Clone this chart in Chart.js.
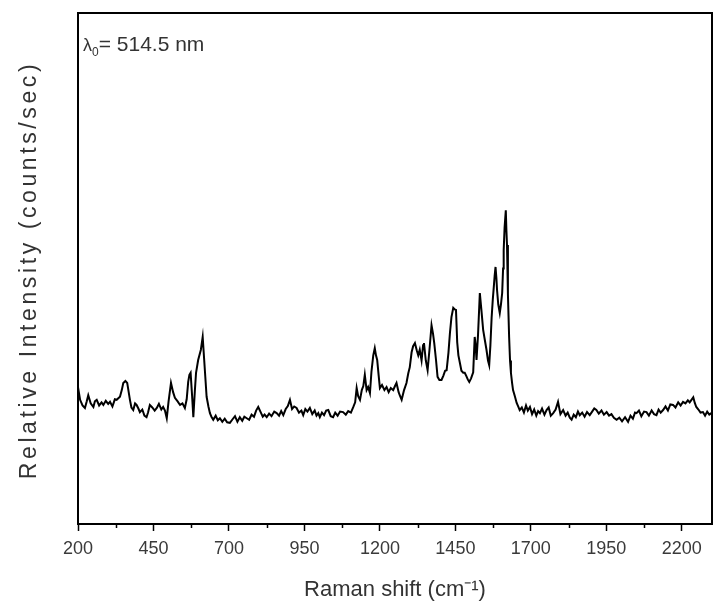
<!DOCTYPE html>
<html>
<head>
<meta charset="utf-8">
<script src="https://cdn.jsdelivr.net/npm/chart.js@4.4.1/dist/chart.umd.min.js"></script>
<style>
html, body { margin: 0; padding: 0; background: #fff; }
</style>
</head>
<body>
<canvas id="raman_chart" width="713" height="610"></canvas>
<script>
//Spectrum, x in cm-1, intensity in arbitrary counts (0-1000 over the frame)
const raman_shift = [200,207,215,223,229,234,242,251,256,262,270,278,284,292,300,306,314,322,328,339,345,350,357,363,372,377,383,389,394,400,405,413,420,427,432,438,446,454,461,468,476,482,488,494,500,508,515,521,530,538,546,554,560,565,569,573,578,582,587,591,598,607,613,618,626,632,637,642,648,656,663,670,678,686,694,703,712,720,728,736,744,751,759,767,775,783,790,797,805,812,818,825,833,841,850,858,866,873,880,888,895,902,909,916,924,932,940,946,953,960,968,976,984,990,996,1001,1008,1015,1022,1029,1037,1045,1052,1060,1068,1078,1087,1095,1104,1112,1118,1123,1128,1134,1140,1145,1150,1156,1161,1167,1172,1178,1183,1187,1191,1196,1200,1207,1215,1222,1229,1236,1244,1250,1255,1262,1267,1272,1280,1288,1294,1299,1305,1310,1316,1322,1327,1332,1338,1343,1346,1352,1358,1364,1371,1376,1380,1386,1391,1397,1404,1410,1416,1421,1427,1432,1437,1443,1448,1452,1456,1460,1465,1470,1476,1481,1486,1491,1496,1502,1509,1514,1517,1520,1525,1531,1536,1542,1547,1553,1558,1562,1566,1570,1574,1577,1580,1583,1586,1588,1592,1597,1601,1605,1608,1610,1613,1617,1619,1621,1624,1628,1631,1634,1638,1641,1647,1653,1658,1663,1670,1677,1684,1690,1697,1704,1711,1718,1724,1730,1737,1745,1752,1759,1766,1774,1782,1790,1798,1807,1815,1822,1829,1835,1842,1849,1856,1862,1870,1878,1886,1895,1903,1910,1917,1925,1934,1942,1951,1959,1967,1975,1984,1993,2002,2012,2022,2030,2038,2045,2050,2058,2066,2075,2083,2091,2100,2108,2116,2123,2130,2138,2146,2154,2162,2171,2179,2188,2196,2204,2212,2220,2226,2232,2238,2243,2248,2255,2262,2270,2277,2284,2291,2298];
const intensity = [268,243,232,227,240,252,236,229,240,243,232,238,233,241,235,239,230,244,243,249,262,276,280,276,243,228,223,236,233,226,219,224,212,209,218,233,228,222,227,235,224,229,222,207,240,276,258,247,240,233,236,227,244,278,292,296,250,209,260,296,321,341,366,321,249,230,217,210,204,212,203,207,200,206,199,198,205,211,200,209,202,210,207,204,214,210,222,229,219,210,214,209,216,211,220,217,212,221,213,225,231,243,225,230,227,218,222,213,225,220,227,215,222,212,217,209,218,213,222,223,211,209,218,212,220,219,214,221,218,229,238,266,250,243,262,270,292,262,268,256,298,330,344,330,321,290,266,272,262,268,258,266,262,270,276,258,250,243,262,276,295,307,336,348,354,340,330,341,320,350,354,320,301,340,389,372,354,320,288,282,282,290,300,301,335,374,405,423,420,419,356,330,315,300,296,296,290,283,278,285,297,366,350,321,370,452,420,380,362,341,320,311,350,403,440,462,485,503,480,458,430,413,430,452,500,536,580,614,575,546,450,366,320,296,275,262,250,237,230,223,228,218,232,222,229,215,224,212,221,217,226,214,223,228,212,217,224,239,215,223,212,218,208,204,214,209,220,213,218,210,219,213,220,226,223,216,222,214,219,212,215,208,204,208,201,209,200,212,206,218,217,222,211,220,219,212,222,215,213,224,218,223,230,222,234,233,228,238,232,239,236,242,238,243,248,237,229,224,218,219,212,220,214,217];

const x_ticks = [200,450,700,950,1200,1450,1700,1950,2200];
const x_minor_ticks = [325,575,825,1075,1325,1575,1825,2075];
const x_title = "Raman shift (cm\u207B\u00B9)";
const y_title = "Relative Intensity (counts/sec)";
const laser_text = "= 514.5 nm";

var points = [];
for(let i = 0;i < raman_shift.length;i++){
    points.push({x: raman_shift[i], y: intensity[i]});
}

const FONT = "'Liberation Sans', Arial, sans-serif";

//frame, minor ticks, y title and the lambda label
const extras = {
    id: 'extras',
    afterDraw(chart){
        const ctx = chart.ctx;
        const a = chart.chartArea;
        const xs = chart.scales.x;
        ctx.save();
        ctx.strokeStyle = '#000';
        ctx.lineWidth = 2;
        ctx.strokeRect(a.left, a.top, a.right - a.left, a.bottom - a.top);
        ctx.lineWidth = 1.5;
        ctx.beginPath();
        for(let i = 0;i < x_minor_ticks.length;i++){
            const px = Math.round(xs.getPixelForValue(x_minor_ticks[i])) + 0.5;
            ctx.moveTo(px, a.bottom);
            ctx.lineTo(px, a.bottom + 4);
        }
        ctx.stroke();

        //y title, spaced out like the original
        ctx.fillStyle = '#333';
        ctx.font = "23px " + FONT;
        ctx.letterSpacing = "3.6px";
        ctx.textAlign = 'center';
        ctx.textBaseline = 'middle';
        ctx.translate(30, 270);
        ctx.rotate(-Math.PI / 2);
        ctx.fillText(y_title, 0, 0);
        ctx.restore();

        ctx.save();
        ctx.fillStyle = '#333';
        ctx.textBaseline = 'alphabetic';
        ctx.textAlign = 'left';
        ctx.font = "18px " + FONT;
        ctx.fillText("\u03BB", a.left + 5, a.top + 38);
        let w = ctx.measureText("\u03BB").width;
        ctx.font = "12px " + FONT;
        ctx.fillText("0", a.left + 5 + w, a.top + 43);
        let w2 = ctx.measureText("0").width;
        ctx.font = "21px " + FONT;
        ctx.fillText(laser_text, a.left + 5 + w + w2, a.top + 38);
        ctx.restore();
    }
};

var chrt = new Chart(document.getElementById("raman_chart").getContext('2d'), {
    type: 'line',
    data: {
        datasets: [{
            data: points,
            borderColor: '#000',
            borderWidth: 2,
            pointRadius: 0,
            tension: 0,
            fill: false
        }]
    },
    options: {
        responsive: false,
        animation: false,
        layout: { padding: { top: 13, right: 1, left: 0, bottom: 0 } },
        plugins: {
            legend: { display: false },
            tooltip: { enabled: false }
        },
        scales: {
            x: {
                type: 'linear',
                min: 200,
                max: 2300,
                afterBuildTicks: function(scale){
                    scale.ticks = x_ticks.map(v => ({value: v}));
                },
                afterFit: function(scale){ scale.height = 86; },
                grid: { display: true, drawOnChartArea: false, drawTicks: true, tickLength: 7, tickWidth: 1.5, tickColor: '#000' },
                border: { display: true, color: '#000', width: 2 },
                ticks: {
                    color: '#3a3a3a',
                    font: { family: FONT, size: 18 },
                    padding: 7,
                    maxRotation: 0,
                    autoSkip: false,
                    callback: function(value){ return String(value); }
                },
                title: {
                    display: true,
                    text: x_title,
                    color: '#333',
                    font: { family: FONT, size: 22 },
                    padding: { top: 0, bottom: 7 }
                }
            },
            y: {
                min: 0,
                max: 1000,
                afterFit: function(scale){ scale.width = 78; },
                grid: { display: false },
                border: { display: true, color: '#000', width: 2 },
                ticks: { display: false }
            }
        }
    },
    plugins: [extras]
});
</script>
</body>
</html>
